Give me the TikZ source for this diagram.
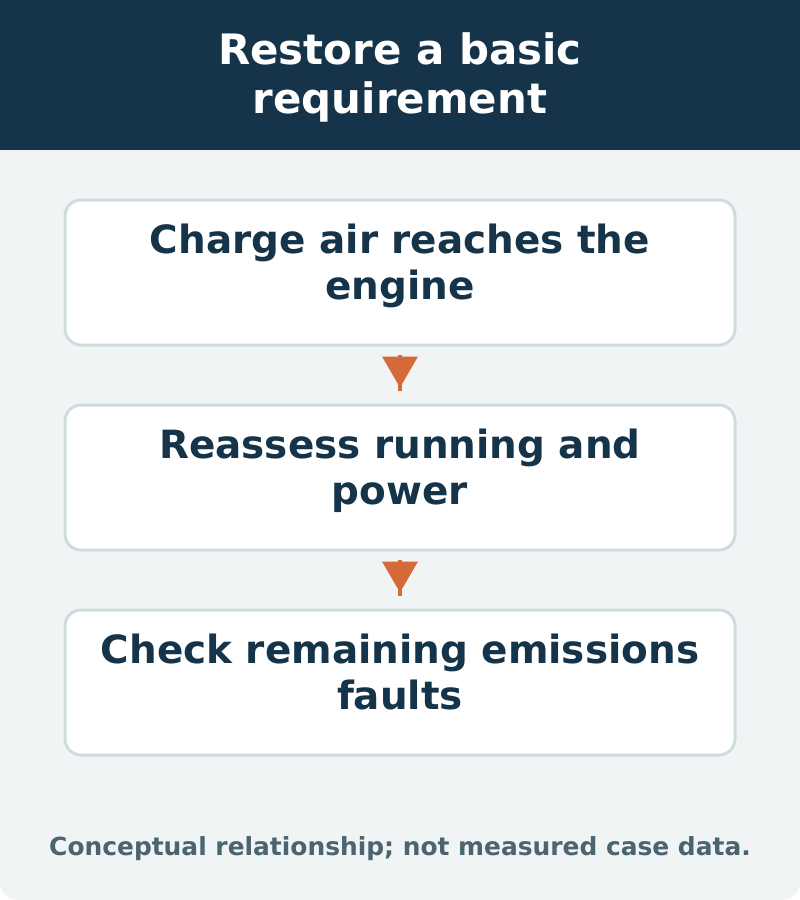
\documentclass[tikz,border=0pt]{standalone}
\usepackage{fontspec}
\setmainfont{DejaVu Sans}
\usetikzlibrary{calc}
\definecolor{navy}{HTML}{163449}
\definecolor{bgc}{HTML}{F0F4F5}
\definecolor{edgec}{HTML}{CFDCDF}
\definecolor{orng}{HTML}{D4693A}
\definecolor{footc}{HTML}{4A6470}
\tikzset{
  stepbox/.style={draw=edgec, line width=3pt, fill=white, rounded corners=16pt,
    minimum width=670pt, minimum height=145pt, inner sep=0pt},
  steptext/.style={text=navy, font=\fontsize{38.9}{46}\selectfont\bfseries, align=center},
  titletext/.style={text=white, font=\fontsize{41.9}{49}\selectfont\bfseries, align=center},
  foottext/.style={text=footc, font=\fontsize{24.9}{30}\selectfont\bfseries},
  stem/.style={draw=orng, line width=4pt},
  head/.style={fill=orng}
}
\begin{document}
\begin{tikzpicture}[x=1pt, y=-1pt]
\useasboundingbox (0,0) rectangle (800,900);
\fill[bgc] (0,0) -- (800,0) -- (800,882) arc[start angle=0, end angle=90, radius=18] -- (18,900) arc[start angle=90, end angle=180, radius=18] -- cycle;
\fill[navy] (0,0) rectangle (800,150);
\node[titletext] (title) at (400,77) {Restore a basic\\requirement};

\node[stepbox] (b1) at (400,272.5) {};
\node[stepbox] (b2) at (400,477.5) {};
\node[stepbox] (b3) at (400,682.5) {};
\node[steptext] (t1) at (400,266) {Charge air reaches the\\engine};
\node[steptext] (t2) at (400,471) {Reassess running and\\power};
\node[steptext] (t3) at (400,671.5) {Check remaining emissions\\faults};

\foreach \a/\b in {b1/b2, b2/b3}{
  \draw[stem] ($(\a.south)+(0,8)$) -- ($(\b.north)+(0,-13)$);
  \fill[head] ($(\a.south)+(-18,10)$) -- ($(\a.south)+(18,10)$) -- ($(\a.south)+(0,41)$) -- cycle;
}

\node[foottext] (foot) at (400,848.5) {Conceptual relationship; not measured case data.};
\end{tikzpicture}
\end{document}
